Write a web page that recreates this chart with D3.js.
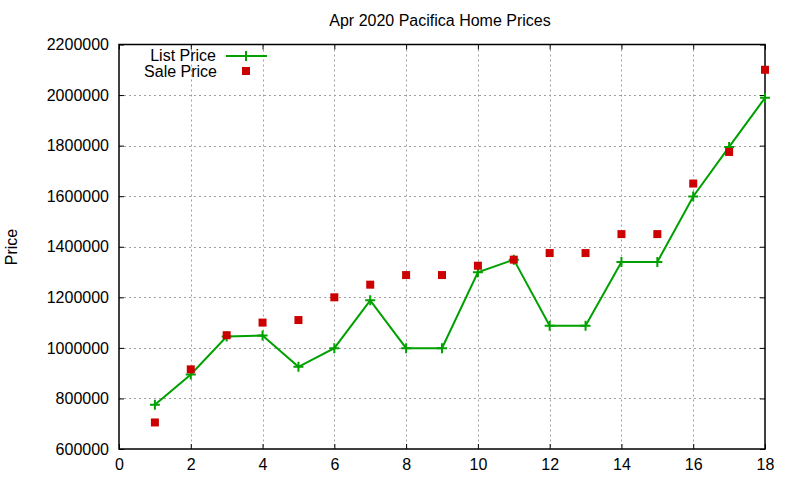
<!DOCTYPE html>
<html>
<head>
<meta charset="utf-8">
<script src="https://d3js.org/d3.v7.min.js"></script>
<style>
  body { margin: 0; background: #fff; }
  text { font-family: "Liberation Sans", Arial, sans-serif; fill: #000; }
</style>
</head>
<body>
<script>
// chart data
var houses = [1, 2, 3, 4, 5, 6, 7, 8, 9, 10, 11, 12, 13, 14, 15, 16, 17, 18];
var listPrice = [775000, 895000, 1045000, 1049000, 925000, 999000, 1188000, 999000, 999000,
                 1299000, 1349000, 1088000, 1088000, 1340000, 1340000, 1599000, 1795000, 1989000];
var salePrice = [705000, 915000, 1050000, 1100000, 1110000, 1200000, 1250000, 1288000, 1288000,
                 1325000, 1349000, 1375000, 1375000, 1450000, 1450000, 1650000, 1775000, 2100000];
var xTicks = [0, 2, 4, 6, 8, 10, 12, 14, 16, 18];
var yTicks = [600000, 800000, 1000000, 1200000, 1400000, 1600000, 1800000, 2000000, 2200000];

var width = 800, height = 480;
var plotL = 119, plotR = 765, plotT = 44.5, plotB = 449;
var green = "#00a000", red = "#cc0000";
var fs = 16;

var x = d3.scaleLinear().domain([0, 18]).range([plotL, plotR]);
var y = d3.scaleLinear().domain([600000, 2200000]).range([plotB, plotT]);

var svg = d3.select("body").append("svg")
    .attr("width", width)
    .attr("height", height);

// grid
var grid = svg.append("g").attr("stroke", "#a0a0a0").attr("stroke-width", 1)
    .attr("stroke-dasharray", "2,3");
grid.selectAll(".gx").data(xTicks.slice(1, -1)).enter().append("line")
    .attr("x1", d => Math.round(x(d)) + 0.5).attr("x2", d => Math.round(x(d)) + 0.5)
    .attr("y1", plotT).attr("y2", plotB);
grid.selectAll(".gy").data(yTicks.slice(1, -1)).enter().append("line")
    .attr("y1", d => Math.round(y(d)) + 0.5).attr("y2", d => Math.round(y(d)) + 0.5)
    .attr("x1", plotL).attr("x2", plotR);

// axes, gnuplot style: ticks inward, mirrored
var tick = 5;
svg.append("g").attr("transform", "translate(0," + plotB + ")")
    .call(d3.axisBottom(x).tickValues(xTicks).tickSizeInner(-tick).tickSizeOuter(0).tickPadding(10))
    .call(g => g.select(".domain").remove())
    .call(g => g.selectAll("text").attr("font-size", fs).attr("font-family", "Liberation Sans"));
svg.append("g").attr("transform", "translate(0," + plotT + ")")
    .call(d3.axisTop(x).tickValues(xTicks).tickSizeInner(-tick).tickSizeOuter(0))
    .call(g => g.select(".domain").remove())
    .call(g => g.selectAll("text").remove());
svg.append("g").attr("transform", "translate(" + plotL + ",0)")
    .call(d3.axisLeft(y).tickValues(yTicks).tickFormat(d3.format("d")).tickSizeInner(-tick).tickSizeOuter(0).tickPadding(10))
    .call(g => g.select(".domain").remove())
    .call(g => g.selectAll("text").attr("font-size", fs).attr("font-family", "Liberation Sans"));
svg.append("g").attr("transform", "translate(" + plotR + ",0)")
    .call(d3.axisRight(y).tickValues(yTicks).tickSizeInner(-tick).tickSizeOuter(0))
    .call(g => g.select(".domain").remove())
    .call(g => g.selectAll("text").remove());

svg.append("rect")
    .attr("x", plotL).attr("y", plotT)
    .attr("width", plotR - plotL).attr("height", plotB - plotT)
    .attr("fill", "none").attr("stroke", "#000").attr("stroke-width", 1.5);

// list price line
var line = d3.line().x((d, i) => x(houses[i])).y(d => y(d));
svg.append("path")
    .datum(listPrice)
    .attr("fill", "none")
    .attr("stroke", green)
    .attr("stroke-width", 2)
    .attr("d", line);

function plus(g, cx, cy) {
  g.append("path")
    .attr("d", "M" + (cx - 5) + "," + cy + "H" + (cx + 5) + "M" + cx + "," + (cy - 5) + "V" + (cy + 5))
    .attr("stroke", green).attr("stroke-width", 2).attr("fill", "none");
}
var pts = svg.append("g");
listPrice.forEach(function(d, i) { plus(pts, x(houses[i]), y(d)); });

// sale price squares
svg.append("g").selectAll("rect")
    .data(salePrice)
    .enter()
    .append("rect")
    .attr("x", (d, i) => x(houses[i]) - 4)
    .attr("y", d => y(d) - 4)
    .attr("width", 8).attr("height", 8)
    .attr("fill", red);

// legend
var lg = svg.append("g");
lg.append("text").attr("x", 216).attr("y", 61).attr("text-anchor", "end")
    .attr("font-size", fs).text("List Price");
lg.append("line").attr("x1", 226).attr("x2", 267).attr("y1", 56).attr("y2", 56)
    .attr("stroke", green).attr("stroke-width", 2);
plus(lg, 246, 56);
lg.append("text").attr("x", 217).attr("y", 77).attr("text-anchor", "end")
    .attr("font-size", fs).text("Sale Price");
lg.append("rect").attr("x", 242).attr("y", 67).attr("width", 8).attr("height", 8).attr("fill", red);

// title and y label
svg.append("text").attr("x", 440).attr("y", 26).attr("text-anchor", "middle")
    .attr("font-size", fs).text("Apr 2020 Pacifica Home Prices");
svg.append("text").attr("transform", "translate(17,247) rotate(-90)")
    .attr("text-anchor", "middle").attr("font-size", fs).text("Price");
</script>
</body>
</html>
